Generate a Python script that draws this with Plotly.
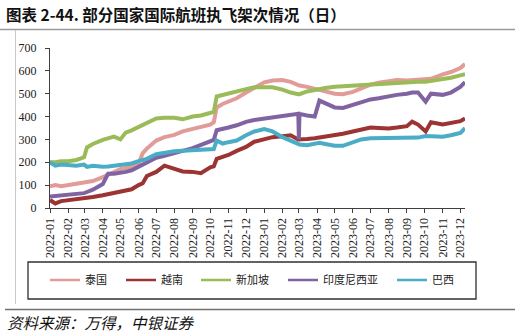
import plotly.graph_objects as go

# Canvas and plot-area margins (pixels)
W, H = 515, 336
ML, MR, MT, MB = 50, 50, 48, 128
PW, PH = W - ML - MR, H - MT - MB


def px_x(px):
    return (px - ML) / PW


def px_y(py):
    return (H - MB - py) / PH


# Daily international flights by country (sampled dates)
dates = [
    "2022-01-01", "2022-01-10", "2022-01-20", "2022-02-01", "2022-02-15", "2022-02-28",
    "2022-03-05", "2022-03-15", "2022-04-01", "2022-04-10", "2022-04-20", "2022-05-01",
    "2022-05-10", "2022-05-20", "2022-06-01", "2022-06-08", "2022-06-15", "2022-07-01",
    "2022-07-15", "2022-08-01", "2022-08-15", "2022-09-01", "2022-09-15", "2022-10-01",
    "2022-10-07", "2022-10-12", "2022-10-22", "2022-11-01", "2022-11-15", "2022-12-01",
    "2022-12-15", "2023-01-01", "2023-01-15", "2023-02-01", "2023-02-15", "2023-02-28",
    "2023-03-01", "2023-03-02", "2023-03-15", "2023-03-28", "2023-04-05", "2023-04-15",
    "2023-05-01", "2023-05-15", "2023-06-01", "2023-06-15", "2023-07-01", "2023-07-15",
    "2023-08-01", "2023-08-15", "2023-09-01", "2023-09-10", "2023-09-20", "2023-10-03",
    "2023-10-12", "2023-11-01", "2023-11-15", "2023-12-01", "2023-12-09",
]

thailand = [
    95, 100, 95, 100, 105, 110, 112, 118, 135, 145, 155, 170,
    175, 182, 195, 240, 260, 295, 310, 320, 335, 345, 355, 365,
    375, 440, 455, 465, 480, 505, 525, 550, 558, 560, 552, 540,
    538, 536, 530, 520, 515, 510, 500, 498, 508, 525, 540, 548,
    555, 560, 558, 560, 560, 562, 565, 585, 595, 612, 630,
]

vietnam = [
    35, 20, 30, 34, 38, 40, 42, 48, 56, 60, 65, 70,
    75, 82, 100, 108, 140, 158, 185, 172, 160, 158, 152, 178,
    182, 215, 222, 232, 250, 267, 290, 302, 310, 314, 318, 300,
    300, 300, 302, 305, 308, 312, 320, 325, 335, 342, 352, 350,
    348, 352, 358, 378, 365, 335, 375, 365, 370, 380, 392,
]

singapore = [
    200, 200, 205, 205, 210, 222, 265, 280, 298, 305, 312, 300,
    330, 340, 355, 365, 375, 392, 395, 395, 388, 400, 405, 415,
    420, 488, 495, 500, 510, 520, 528, 530, 528, 518, 505, 498,
    498, 498, 510, 518, 522, 525, 530, 532, 536, 540, 542, 545,
    546, 548, 550, 550, 552, 552, 555, 565, 570, 580, 585,
]

indonesia = [
    50, 52, 55, 60, 62, 65, 70, 80, 105, 150, 150, 152,
    158, 165, 180, 188, 198, 220, 228, 238, 250, 262, 275, 290,
    298, 340, 345, 352, 362, 377, 385, 392, 395, 405, 410, 412,
    300, 412, 405, 400, 470, 460, 440, 438, 450, 462, 475, 480,
    490, 495, 500, 505, 505, 465, 500, 495, 505, 530, 550,
]

brazil = [
    200, 185, 190, 188, 185, 190, 180, 185, 180, 182, 185, 188,
    190, 195, 205, 210, 215, 235, 242, 248, 250, 252, 252, 255,
    258, 295, 282, 288, 295, 318, 335, 345, 335, 310, 295, 280,
    278, 278, 275, 280, 285, 280, 272, 272, 285, 300, 305, 305,
    305, 305, 305, 305, 308, 315, 315, 312, 318, 328, 350,
]

series_names = ["泰国", "越南", "新加坡", "印度尼西亚", "巴西"]
series_values = [thailand, vietnam, singapore, indonesia, brazil]
series_colors = ["#E29C98", "#9B3432", "#9BBB59", "#8064A2", "#4BACC6"]

# Legend entry positions along the bottom box (pixel x of each swatch start)
legend_x = [50, 126, 201, 288, 397]
legend_y = 280

fig = go.Figure()
legend_layout = {}
for i, (name, vals, col) in enumerate(zip(series_names, series_values, series_colors)):
    key = "legend" if i == 0 else f"legend{i + 1}"
    # the series itself
    fig.add_trace(go.Scatter(
        x=dates, y=vals, name=name, mode="lines",
        line=dict(color=col, width=4),
        showlegend=False,
    ))
    # legend swatch with a thinner stroke
    fig.add_trace(go.Scatter(
        x=[None], y=[None], name=name, mode="lines",
        line=dict(color=col, width=2.5),
        legend=key, showlegend=True, hoverinfo="skip",
    ))
    legend_layout[key] = dict(
        x=px_x(legend_x[i] - 5), y=px_y(legend_y),
        xanchor="left", yanchor="middle",
        orientation="h", bgcolor="rgba(0,0,0,0)", borderwidth=0,
        font=dict(family="Noto Sans CJK SC", size=11, color="#222"),
        itemwidth=30,
    )

serif = "Liberation Serif, Times New Roman, serif"

fig.update_layout(
    width=W, height=H,
    margin=dict(l=ML, r=MR, t=MT, b=MB, pad=0),
    paper_bgcolor="white", plot_bgcolor="white",
    showlegend=True,
    **legend_layout,
    xaxis=dict(
        type="date",
        range=["2022-01-01", "2023-12-09"],
        tickformat="%Y-%m", dtick="M1", tick0="2022-01-01",
        tickangle=-90,
        tickfont=dict(family=serif, size=12, color="#222"),
        showline=True, linecolor="#404040", linewidth=1.2,
        ticks="outside", ticklen=4, tickcolor="#404040",
        showgrid=False, zeroline=False,
    ),
    yaxis=dict(
        range=[0, 700], dtick=100,
        tickfont=dict(family=serif, size=12, color="#222"),
        showline=True, linecolor="#404040", linewidth=1.2,
        ticks="outside", ticklen=4, tickcolor="#404040",
        ticklabelstandoff=6,
        showgrid=False, zeroline=False,
    ),
    shapes=[
        # rule under the heading
        dict(type="line", xref="paper", yref="paper",
             x0=px_x(0), x1=px_x(W), y0=px_y(29.5), y1=px_y(29.5),
             line=dict(color="#9a9a9a", width=1.5)),
        # left edge of the chart frame
        dict(type="line", xref="paper", yref="paper",
             x0=px_x(15.5), x1=px_x(15.5), y0=px_y(30), y1=px_y(304),
             line=dict(color="#c8c8c8", width=1)),
        # legend box
        dict(type="rect", xref="paper", yref="paper",
             x0=px_x(28), x1=px_x(476), y0=px_y(299), y1=px_y(262),
             line=dict(color="#303030", width=1.3), fillcolor="rgba(0,0,0,0)"),
        # rule above the source note
        dict(type="line", xref="paper", yref="paper",
             x0=px_x(5), x1=px_x(W), y0=px_y(309.5), y1=px_y(309.5),
             line=dict(color="#707070", width=1.5)),
    ],
    annotations=[
        dict(text="<b>图表 2-44. 部分国家国际航班执飞架次情况（日）</b>",
             xref="paper", yref="paper", x=px_x(4), y=px_y(14),
             xanchor="left", yanchor="middle", showarrow=False,
             font=dict(family="Noto Sans CJK SC", size=15.5, color="#111")),
        dict(text="<i>资料来源：万得，中银证券</i>",
             xref="paper", yref="paper", x=px_x(5), y=px_y(322),
             xanchor="left", yanchor="middle", showarrow=False,
             font=dict(family="Noto Sans CJK SC", size=15.5, color="#111")),
    ],
)

fig.write_html("out.html")
